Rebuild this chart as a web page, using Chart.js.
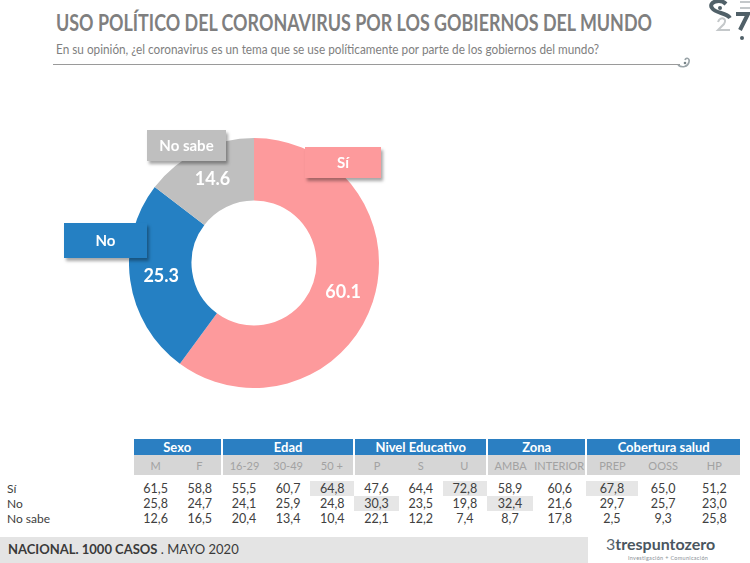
<!DOCTYPE html>
<html>
<head>
<meta charset="utf-8">
<script src="https://cdn.jsdelivr.net/npm/chart.js@4.4.1/dist/chart.umd.min.js"></script>
<style>
  html, body { margin: 0; padding: 0; background: #fff; }
  body { width: 750px; height: 563px; position: relative; overflow: hidden; font-family: Lato, 'Open Sans', sans-serif; }
  .abs { position: absolute; white-space: nowrap; }
  #title { left: 56px; top: 9px; font-size: 22px; font-weight: 700; color: #7f7f7f; transform-origin: 0 0; }
  #subtitle { left: 56px; top: 42px; font-size: 12.5px; color: #7f7f7f; transform-origin: 0 0; }
  #rule { left: 53px; top: 64px; width: 627px; height: 0; border-top: 1.5px solid #9a9a9a; }
  #chartBox { left: 129px; top: 138px; width: 250px; height: 250px; }
  .callout { position: absolute; color: #fff; font-weight: 700; font-size: 15px; text-align: center;
             box-shadow: 2px 3px 3px rgba(0,0,0,0.35); }
  #tableBox { left: 0; top: 439px; }
  table { border-collapse: collapse; table-layout: fixed; width: 740px; font-size: 12px; }
  td { padding: 0; text-align: center; white-space: nowrap; }
  tr.grp td { height: 16px; background: #2b7fc2; color: #fff; font-weight: 700; font-size: 13px; }
  tr.grp td.blank, tr.sub td.blank { background: #fff; }
  tr.sub td { height: 20px; background: #d6d6d6; color: #a2a2a2; font-size: 11px; }
  tr.gap td { height: 6px; }
  tr.val td { height: 14.5px; color: #404040; font-size: 12.5px; }
  tr.val td.lbl { text-align: left; padding-left: 7px; font-size: 12px; }
  td.sep { border-left: 2px solid #fff; }
  td.hl { background: #e6e6e6; }
  #footer { left: 0; top: 537px; width: 588px; height: 26px; background: #e4e4e4; }
  #footText { left: 8px; top: 541px; font-size: 13px; color: #3a3a3a; }
  #logo { left: 606px; top: 535px; font-size: 16px; line-height: 17px; font-weight: 700; color: #4a5660; }
  #logoSub { left: 628px; top: 555px; font-size: 5.5px; line-height: 7px; color: #8a9096; letter-spacing: 0.3px; }
</style>
</head>
<body>
<div id="title" class="abs">USO POLÍTICO DEL CORONAVIRUS POR LOS GOBIERNOS DEL MUNDO</div>
<div id="subtitle" class="abs">En su opinión, ¿el coronavirus es un tema que se use políticamente por parte de los gobiernos del mundo?</div>
<div id="rule" class="abs"></div>
<svg class="abs" style="left:676px;top:54px" width="20" height="16" viewBox="0 0 20 16">
  <path d="M2 11 C6 14, 12 13, 13 8 C14 4, 10 3, 9 6" fill="none" stroke="#9aa4a8" stroke-width="1.6"/>
  <circle cx="9" cy="9" r="1.3" fill="#7a868a"/>
</svg>
<svg class="abs" style="left:696px;top:0px" width="54" height="44" viewBox="0 0 54 44">
  <path d="M30 4 C24 -2, 12 2, 16 8 C20 14, 30 12, 34 18" fill="none" stroke="#506068" stroke-width="4"/>
  <circle cx="24" cy="8" r="2" fill="#506068"/>
  <path d="M44 2 L54 2 M44 8 L54 8" stroke="#c4c8ca" stroke-width="2"/>
  <path d="M22 22 C24 16, 32 18, 28 24 L22 30 L34 30" fill="none" stroke="#c4c8ca" stroke-width="2"/>
  <path d="M40 14 L52 14 L44 30" fill="none" stroke="#506068" stroke-width="4"/>
  <circle cx="46" cy="38" r="2" fill="#506068"/>
</svg>

<div id="chartBox" class="abs"><canvas id="donut"></canvas></div>

<div class="callout" style="left:305px;top:147px;width:76px;height:31px;line-height:31px;background:#fd9a9c;">Sí</div>
<div class="callout" style="left:147px;top:130px;width:79px;height:31px;line-height:31px;background:#bfbfbf;">No sabe</div>
<div class="callout" style="left:64px;top:223px;width:83px;height:35px;line-height:35px;background:#2580c3;">No</div>

<div id="tableBox" class="abs"></div>

<div id="footer" class="abs"></div>
<div id="footText" class="abs"><b>NACIONAL. 1000 CASOS</b> . MAYO 2020</div>
<div id="logo" class="abs"><span style="font-weight:400;color:#5c6870">3</span>trespuntozero</div>
<div id="logoSub" class="abs">Investigación + Comunicación</div>

<script>
// Donut data
const answers = ['Sí', 'No', 'No sabe'];
const answerValues = [60.1, 25.3, 14.6];
const answerColors = ['#fd9a9c', '#2580c3', '#bfbfbf'];

// Table data
const groups = ['Sexo', 'Edad', 'Nivel Educativo', 'Zona', 'Cobertura salud'];
const groupSpans = [2, 3, 3, 2, 3];
const columns = ['M', 'F', '16-29', '30-49', '50 +', 'P', 'S', 'U', 'AMBA', 'INTERIOR', 'PREP', 'OOSS', 'HP'];
const siRow     = ['61,5', '58,8', '55,5', '60,7', '64,8', '47,6', '64,4', '72,8', '58,9', '60,6', '67,8', '65,0', '51,2'];
const noRow     = ['25,8', '24,7', '24,1', '25,9', '24,8', '30,3', '23,5', '19,8', '32,4', '21,6', '29,7', '25,7', '23,0'];
const noSabeRow = ['12,6', '16,5', '20,4', '13,4', '10,4', '22,1', '12,2', '7,4', '8,7', '17,8', '2,5', '9,3', '25,8'];
const rowLabels = ['Sí', 'No', 'No sabe'];
// highlighted cells: [row, column]
const highlights = [[0, 4], [0, 7], [0, 10], [1, 5], [1, 8]];

// fit title lines horizontally (narrow Calibri look)
function fitWidth(id, target) {
    const el = document.getElementById(id);
    const w = el.getBoundingClientRect().width;
    el.style.transform = 'scaleX(' + (target / w) + ')';
}
fitWidth('title', 596);
fitWidth('subtitle', 543);

// build table
const colWidths = [133, 44, 44, 44, 44, 44, 44, 44, 44, 46, 53, 51, 51, 51];
const groupStarts = [];
let acc = 0;
groupSpans.forEach(s => { groupStarts.push(acc); acc += s; });

let html = '<table><colgroup>' + colWidths.map(w => '<col style="width:' + w + 'px">').join('') + '</colgroup>';
html += '<tr class="grp"><td class="blank"></td>' +
    groups.map((g, i) => '<td colspan="' + groupSpans[i] + '"' + (i > 0 ? ' class="sep"' : '') + '>' + g + '</td>').join('') + '</tr>';
html += '<tr class="sub"><td class="blank"></td>' +
    columns.map((c, i) => '<td' + (groupStarts.indexOf(i) > 0 ? ' class="sep"' : '') + '>' + c + '</td>').join('') + '</tr>';
html += '<tr class="gap"><td colspan="14"></td></tr>';
[siRow, noRow, noSabeRow].forEach((row, r) => {
    html += '<tr class="val"><td class="lbl">' + rowLabels[r] + '</td>' +
        row.map((v, c) => {
            const hl = highlights.some(h => h[0] === r && h[1] === c);
            return '<td' + (hl ? ' class="hl"' : '') + '>' + v + '</td>';
        }).join('') + '</tr>';
});
html += '</table>';
document.getElementById('tableBox').innerHTML = html;

// value labels inside the slices
const sliceLabels = {
    id: 'sliceLabels',
    afterDatasetsDraw(chart) {
        const ctx = chart.ctx;
        const meta = chart.getDatasetMeta(0);
        ctx.save();
        ctx.fillStyle = '#ffffff';
        ctx.font = 'bold 18px Lato, "Open Sans", sans-serif';
        ctx.textAlign = 'center';
        ctx.textBaseline = 'middle';
        meta.data.forEach((arc, i) => {
            const p = arc.tooltipPosition();
            ctx.fillText(answerValues[i].toFixed(1), p.x, p.y);
        });
        ctx.restore();
    }
};

new Chart(document.getElementById('donut').getContext('2d'), {
    type: 'doughnut',
    data: {
        labels: answers,
        datasets: [{
            data: answerValues,
            backgroundColor: answerColors,
            borderWidth: 0
        }]
    },
    options: {
        responsive: true,
        maintainAspectRatio: false,
        animation: false,
        cutout: '50%',
        layout: { padding: 0 },
        plugins: {
            legend: { display: false },
            tooltip: { enabled: false }
        }
    },
    plugins: [sliceLabels]
});
</script>
</body>
</html>
